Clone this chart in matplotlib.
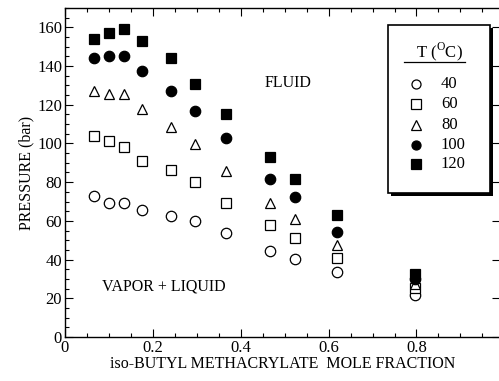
import matplotlib
matplotlib.use('Agg')
import matplotlib.pyplot as plt
from matplotlib.patches import Rectangle
from matplotlib.ticker import MultipleLocator

plt.rcParams['font.family'] = ['Liberation Serif', 'DejaVu Serif']

# mole fraction of iso-butyl methacrylate
x_frac = [0.067, 0.101, 0.134, 0.176, 0.241, 0.297, 0.366, 0.467, 0.524, 0.620, 0.797]

# pressures (bar) per temperature
p_40 = [73.0, 69.3, 69.0, 65.8, 62.7, 59.7, 53.7, 44.5, 40.2, 33.5, 21.5]
p_60 = [103.8, 101.5, 98.3, 90.8, 86.2, 80.1, 69.3, 58.0, 51.1, 40.8, 25.5]
p_80 = [127.0, 125.5, 125.5, 117.6, 108.5, 99.5, 86.0, 69.0, 61.0, 47.5, 27.5]
p_100 = [144.0, 145.2, 145.2, 137.4, 127.3, 116.7, 102.6, 81.8, 72.5, 54.5, 30.0]
p_120 = [154.2, 157.0, 159.4, 152.8, 144.0, 130.9, 115.2, 93.0, 81.8, 63.0, 32.5]

temps = ['40', '60', '80', '100', '120']
series = [p_40, p_60, p_80, p_100, p_120]
markers = ['o', 's', '^', 'o', 's']
fills = ['white', 'white', 'white', 'black', 'black']

fig = plt.figure(figsize=(4.99, 3.81), dpi=100)
ax = fig.add_axes([0.130, 0.1155, 0.872, 0.8635])

for pres, mk, fc in zip(series, markers, fills):
    ax.plot(x_frac, pres, linestyle='none', marker=mk, markersize=7.5,
            markerfacecolor=fc, markeredgecolor='black', markeredgewidth=0.9)

ax.set_xlim(0, 0.99)
ax.set_ylim(0, 170)
ax.xaxis.set_major_locator(MultipleLocator(0.2))
ax.xaxis.set_minor_locator(MultipleLocator(0.05))
ax.yaxis.set_major_locator(MultipleLocator(20))
ax.yaxis.set_minor_locator(MultipleLocator(5))
ax.set_xticks([0, 0.2, 0.4, 0.6, 0.8])
ax.set_xticklabels(['0', '0.2', '0.4', '0.6', '0.8'])

ax.tick_params(which='both', direction='in', top=True, right=True, labelsize=12, width=0.8)
ax.tick_params(which='major', length=6, pad=2)
ax.tick_params(which='minor', length=3, right=False)
for s in ax.spines.values():
    s.set_linewidth(1.0)

ax.set_xlabel('iso-BUTYL METHACRYLATE  MOLE FRACTION', fontsize=11.5, labelpad=0)
ax.set_ylabel('PRESSURE (bar)', fontsize=11.5, labelpad=2)

ax.text(0.455, 131.5, 'FLUID', fontsize=11.5, ha='left', va='center')
ax.text(0.225, 26, 'VAPOR + LIQUID', fontsize=11.5, ha='center', va='center')

# legend box drawn by hand (underlined title, shadow)
tr = ax.transAxes
def ax_x(px):
    return (px - 65) / 435.0
def ax_y(py):
    return (337 - py) / 329.0

bx0, bx1 = ax_x(388), ax_x(490)
by0, by1 = ax_y(193), ax_y(25)
shadow = Rectangle((bx0 + 0.006, by0 - 0.008), bx1 - bx0, by1 - by0, transform=tr,
                   facecolor='black', edgecolor='none', zorder=5)
box = Rectangle((bx0, by0), bx1 - bx0, by1 - by0, transform=tr,
                facecolor='white', edgecolor='black', linewidth=1.2, zorder=6)
ax.add_patch(shadow)
ax.add_patch(box)
ax.text((bx0 + bx1) / 2, ax_y(52), r'T ($^{\mathregular{O}}$C)', transform=tr,
        fontsize=12, ha='center', va='center', zorder=7)
ax.plot([ax_x(404), ax_x(465)], [ax_y(62), ax_y(62)], transform=tr, color='black',
        linewidth=0.9, zorder=7)
entry_y = [84, 104, 125, 145, 164]
for t, mk, fc, ey in zip(temps, markers, fills, entry_y):
    ax.plot([ax_x(416)], [ax_y(ey)], transform=tr, linestyle='none', marker=mk,
            markersize=6.5, markerfacecolor=fc, markeredgecolor='black',
            markeredgewidth=0.9, zorder=7)
    ax.text(ax_x(441), ax_y(ey), t, transform=tr, fontsize=12, ha='left',
            va='center', zorder=7)

fig.savefig('out.png', dpi=100)
